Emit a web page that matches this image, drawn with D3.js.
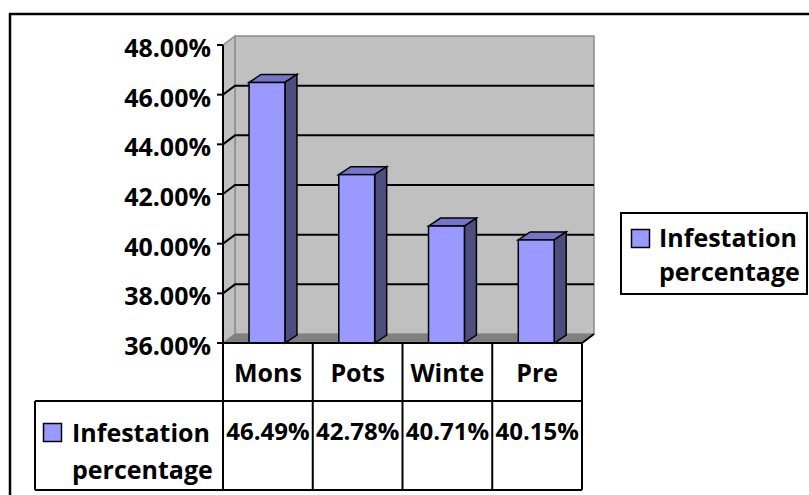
<!DOCTYPE html>
<html>
<head>
<meta charset="utf-8">
<script src="https://cdnjs.cloudflare.com/ajax/libs/d3/7.8.5/d3.min.js"></script>
<style>
  body { margin: 0; background: #fff; }
  svg text { font-family: "Open Sans", "Liberation Sans", sans-serif; font-weight: bold; fill: #000; }
</style>
</head>
<body>
<svg width="809" height="495"></svg>
<script>
var categories = ["Mons", "Pots", "Winte", "Pre"];
var values = [0.4649, 0.4278, 0.4071, 0.4015];
var seriesName = ["Infestation", "percentage"];
var yTicks = [0.36, 0.38, 0.40, 0.42, 0.44, 0.46, 0.48];

var svg = d3.select("svg");
var fmt = d3.format(".2%");

// 3d offsets
var wdx = 12, wdy = 9, bdx = 12, bdy = 8;

var x = d3.scaleBand().domain(categories).range([223, 582]);
var y = d3.scaleLinear().domain([0.36, 0.48]).range([343, 45]);

var x0 = x.range()[0], x1 = x.range()[1];
var yb = y(0.36), yt = y(0.48);

// outer frame
svg.append("path")
    .attr("d", "M10,496 L10,14 L812,14")
    .attr("fill", "none").attr("stroke", "#000").attr("stroke-width", 2.5);

// back wall
svg.append("rect")
    .attr("x", x0 + wdx).attr("y", yt - wdy)
    .attr("width", x1 - x0).attr("height", yb - yt)
    .attr("fill", "#c0c0c0").attr("stroke", "#8c8c8c").attr("stroke-width", 1.5);

// side wall
svg.append("polygon")
    .attr("points", [[x0, yt], [x0 + wdx, yt - wdy], [x0 + wdx, yb - wdy], [x0, yb]].join(" "))
    .attr("fill", "#c0c0c0").attr("stroke", "#8c8c8c").attr("stroke-width", 1.5);

// floor
svg.append("polygon")
    .attr("points", [[x0, yb], [x0 + wdx, yb - wdy], [x1 + wdx, yb - wdy], [x1, yb]].join(" "))
    .attr("fill", "#808080");

// gridlines + ticks
var inner = yTicks.slice(1, -1);
svg.selectAll(".grid").data(inner).enter().append("path")
    .attr("class", "grid")
    .attr("d", function(d) {
        return "M" + x0 + "," + y(d) + " L" + (x0 + wdx) + "," + (y(d) - wdy) + " L" + (x1 + wdx) + "," + (y(d) - wdy);
    })
    .attr("fill", "none").attr("stroke", "#000").attr("stroke-width", 2);

svg.selectAll(".tick").data(yTicks).enter().append("line")
    .attr("class", "tick")
    .attr("x1", x0 - 6).attr("x2", x0)
    .attr("y1", function(d) { return y(d); }).attr("y2", function(d) { return y(d); })
    .attr("stroke", "#000").attr("stroke-width", 2);

// axis lines
svg.append("line").attr("x1", x0).attr("x2", x0).attr("y1", yt).attr("y2", yb)
    .attr("stroke", "#000").attr("stroke-width", 2);
svg.append("path")
    .attr("d", "M" + x0 + "," + yb + " L" + x1 + "," + yb + " L" + (x1 + wdx) + "," + (yb - wdy))
    .attr("fill", "none").attr("stroke", "#000").attr("stroke-width", 2);

svg.selectAll(".ylab").data(yTicks).enter().append("text")
    .attr("class", "ylab")
    .attr("x", x0 - 12).attr("y", function(d) { return y(d) + 2; })
    .attr("text-anchor", "end").attr("dominant-baseline", "central")
    .style("font-size", "25px")
    .text(function(d) { return fmt(d); });

// bars
var bw = x.bandwidth() * 0.4, boff = x.bandwidth() * 0.29;
var bars = svg.selectAll(".bar").data(values).enter().append("g").attr("class", "bar");
bars.append("polygon")
    .attr("points", function(d, i) {
        var l = x(categories[i]) + boff, r = l + bw, t = y(d);
        return [[l, t], [l + bdx, t - bdy], [r + bdx, t - bdy], [r, t]].join(" ");
    })
    .attr("fill", "#7575c8").attr("stroke", "#000").attr("stroke-width", 1.5);
bars.append("polygon")
    .attr("points", function(d, i) {
        var r = x(categories[i]) + boff + bw, t = y(d);
        return [[r, t], [r + bdx, t - bdy], [r + bdx, yb - bdy], [r, yb]].join(" ");
    })
    .attr("fill", "#4d4d80").attr("stroke", "#000").attr("stroke-width", 1.5);
bars.append("rect")
    .attr("x", function(d, i) { return x(categories[i]) + boff; })
    .attr("y", function(d) { return y(d); })
    .attr("width", bw)
    .attr("height", function(d) { return yb - y(d); })
    .attr("fill", "#9999ff").attr("stroke", "#000").attr("stroke-width", 1.5);

// redraw front axis on top of bar bottoms
svg.append("line").attr("x1", x0 - 6).attr("x2", x1).attr("y1", yb).attr("y2", yb)
    .attr("stroke", "#000").attr("stroke-width", 2);

// data table
var tTop = yb, tMid = 401, tBot = 490, tLeft = 35;
var tg = svg.append("g").attr("stroke", "#000").attr("stroke-width", 2);
var colEdges = categories.map(function(c) { return x(c); }).concat([x1]);
tg.selectAll(".col").data(colEdges).enter().append("line")
    .attr("x1", function(d) { return d; }).attr("x2", function(d) { return d; })
    .attr("y1", tTop).attr("y2", tBot);
tg.append("line").attr("x1", tLeft).attr("x2", x1).attr("y1", tMid).attr("y2", tMid);
tg.append("line").attr("x1", tLeft).attr("x2", x1).attr("y1", tBot).attr("y2", tBot);
tg.append("line").attr("x1", tLeft).attr("x2", tLeft).attr("y1", tMid).attr("y2", tBot);

svg.selectAll(".cat").data(categories).enter().append("text")
    .attr("class", "cat")
    .attr("x", function(d) { return x(d) + x.bandwidth() / 2; })
    .attr("y", 382)
    .attr("text-anchor", "middle")
    .style("font-size", "25px")
    .text(function(d) { return d; });

svg.selectAll(".val").data(values).enter().append("text")
    .attr("class", "val")
    .attr("x", function(d, i) { return x(categories[i]) + x.bandwidth() / 2; })
    .attr("y", 440)
    .attr("text-anchor", "middle")
    .style("font-size", "24px")
    .text(function(d) { return fmt(d); });

function legendEntry(g, sx, sy, tx, ty1, ty2) {
    g.append("rect").attr("x", sx).attr("y", sy).attr("width", 18).attr("height", 18)
        .attr("fill", "#9999ff").attr("stroke", "#000").attr("stroke-width", 1.5);
    g.append("text").attr("x", tx).attr("y", ty1).style("font-size", "25px").text(seriesName[0]);
    g.append("text").attr("x", tx).attr("y", ty2).style("font-size", "25px").text(seriesName[1]);
}
legendEntry(svg.append("g"), 43.5, 423.5, 72, 442, 479);

// legend
var lg = svg.append("g");
lg.append("rect").attr("x", 621).attr("y", 213).attr("width", 186).attr("height", 81)
    .attr("fill", "#fff").attr("stroke", "#000").attr("stroke-width", 2);
legendEntry(lg, 631.5, 229.5, 659, 247, 281);
</script>
</body>
</html>
